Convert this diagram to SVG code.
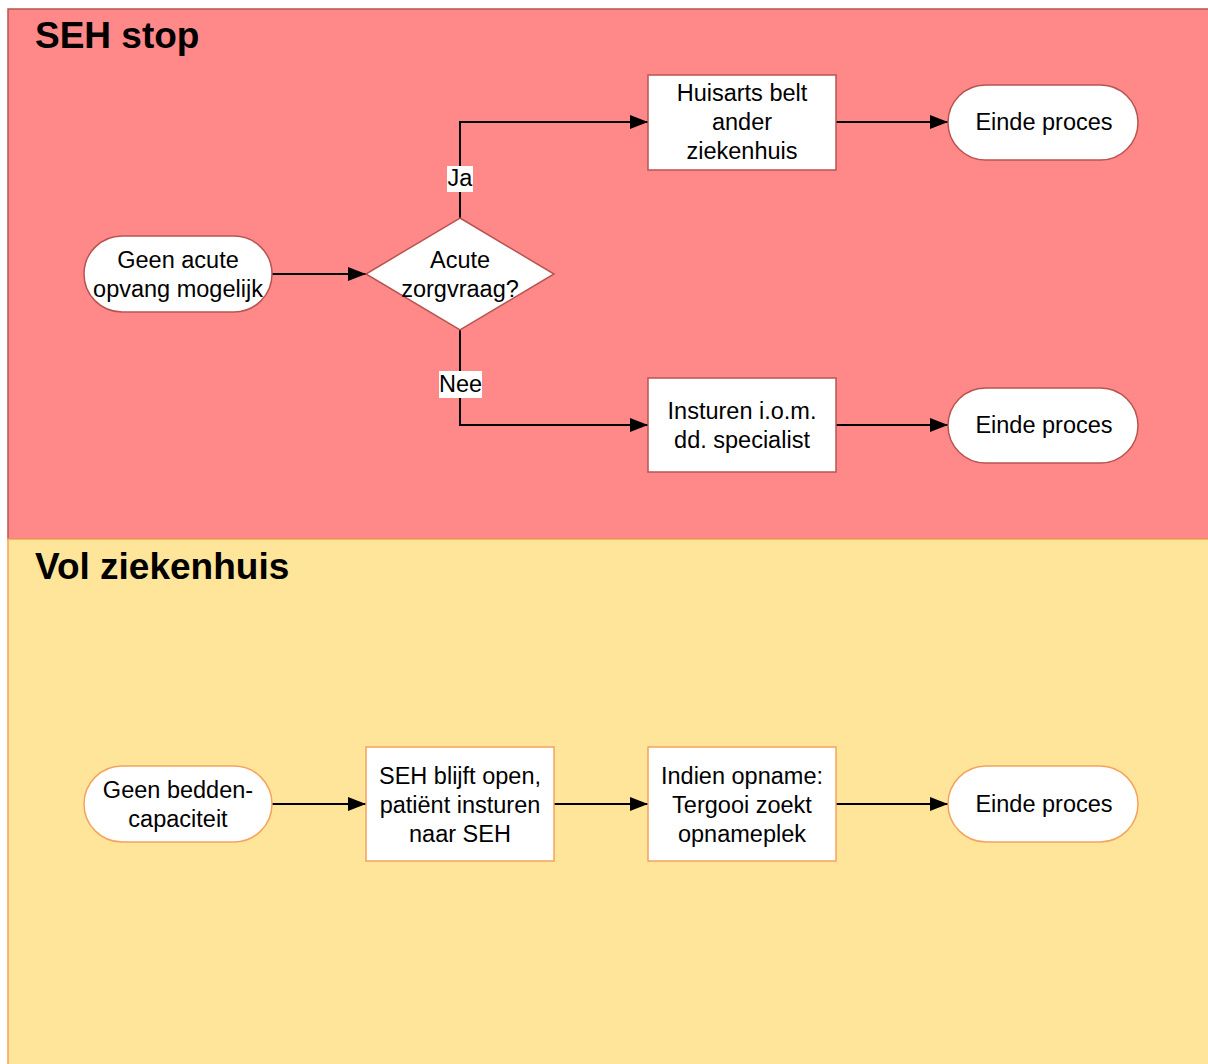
<svg xmlns="http://www.w3.org/2000/svg" width="1208" height="1064" viewBox="0 0 1208 1064">
<style>
.t{font-family:"Liberation Sans",Arial,sans-serif;font-size:23.5px;fill:#000;text-anchor:middle}
.h{font-family:"Liberation Sans",Arial,sans-serif;font-size:37px;font-weight:bold;fill:#000}
.rn{fill:#fff;stroke:#B85450;stroke-width:1.5}
.yn{fill:#fff;stroke:#F5A35C;stroke-width:1.5}
.c{fill:none;stroke:#000;stroke-width:2}
</style>
<defs>
<marker id="ar" viewBox="0 0 18 14" refX="18" refY="7" markerWidth="18" markerHeight="14" markerUnits="userSpaceOnUse" orient="auto"><path d="M0,0 L18,7 L0,14 Z" fill="#000"/></marker>
</defs>
<g id="lane-seh-stop">
<rect x="8" y="9" width="1210" height="530" fill="#FF8888" stroke="#B85450" stroke-width="1.5"/>
<text class="h" x="35" y="48">SEH stop</text>
</g>
<g id="lane-vol-ziekenhuis">
<rect x="8" y="539" width="1210" height="540" fill="#FFE599" stroke="#F5A35C" stroke-width="1.5"/>
<text class="h" x="35" y="579">Vol ziekenhuis</text>
</g>
<g id="connectors">
<path class="c" d="M272,274 H366" marker-end="url(#ar)"/>
<path class="c" d="M460,218 V122 H648" marker-end="url(#ar)"/>
<path class="c" d="M460,330 V425 H648" marker-end="url(#ar)"/>
<path class="c" d="M836,122 H948" marker-end="url(#ar)"/>
<path class="c" d="M836,425 H948" marker-end="url(#ar)"/>
<path class="c" d="M272,804 H366" marker-end="url(#ar)"/>
<path class="c" d="M554,804 H648" marker-end="url(#ar)"/>
<path class="c" d="M836,804 H948" marker-end="url(#ar)"/>
<rect x="447" y="166" width="26" height="26" fill="#fff"/>
<text class="t" x="460" y="186">Ja</text>
<rect x="439" y="371" width="43" height="27" fill="#fff"/>
<text class="t" x="460.5" y="392">Nee</text>
</g>
<g id="n-geen-acute">
<rect class="rn" x="84" y="236" width="188" height="76" rx="38"/>
<text class="t" x="178" y="268">Geen acute</text>
<text class="t" x="178" y="297">opvang mogelijk</text>
</g>
<g id="n-acute-zorgvraag">
<path class="rn" d="M460,218 L554,274 L460,330 L366,274 Z"/>
<text class="t" x="460" y="268">Acute</text>
<text class="t" x="460" y="297">zorgvraag?</text>
</g>
<g id="n-huisarts">
<rect class="rn" x="648" y="75" width="188" height="95"/>
<text class="t" x="742" y="101">Huisarts belt</text>
<text class="t" x="742" y="130">ander</text>
<text class="t" x="742" y="159">ziekenhuis</text>
</g>
<g id="n-einde-1">
<rect class="rn" x="948" y="85" width="190" height="75" rx="37.5"/>
<text class="t" x="1044" y="130">Einde proces</text>
</g>
<g id="n-insturen">
<rect class="rn" x="648" y="378" width="188" height="94"/>
<text class="t" x="742" y="419">Insturen i.o.m.</text>
<text class="t" x="742" y="448">dd. specialist</text>
</g>
<g id="n-einde-2">
<rect class="rn" x="948" y="388" width="190" height="75" rx="37.5"/>
<text class="t" x="1044" y="433">Einde proces</text>
</g>
<g id="n-geen-bedden">
<rect class="yn" x="84" y="766" width="188" height="76" rx="38"/>
<text class="t" x="178" y="798">Geen bedden-</text>
<text class="t" x="178" y="827">capaciteit</text>
</g>
<g id="n-seh-open">
<rect class="yn" x="366" y="747" width="188" height="114"/>
<text class="t" x="460" y="784">SEH blijft open,</text>
<text class="t" x="460" y="813">patiënt insturen</text>
<text class="t" x="460" y="842">naar SEH</text>
</g>
<g id="n-indien-opname">
<rect class="yn" x="648" y="747" width="188" height="114"/>
<text class="t" x="742" y="784">Indien opname:</text>
<text class="t" x="742" y="813">Tergooi zoekt</text>
<text class="t" x="742" y="842">opnameplek</text>
</g>
<g id="n-einde-3">
<rect class="yn" x="948" y="766" width="190" height="76" rx="38"/>
<text class="t" x="1044" y="812">Einde proces</text>
</g>
</svg>
